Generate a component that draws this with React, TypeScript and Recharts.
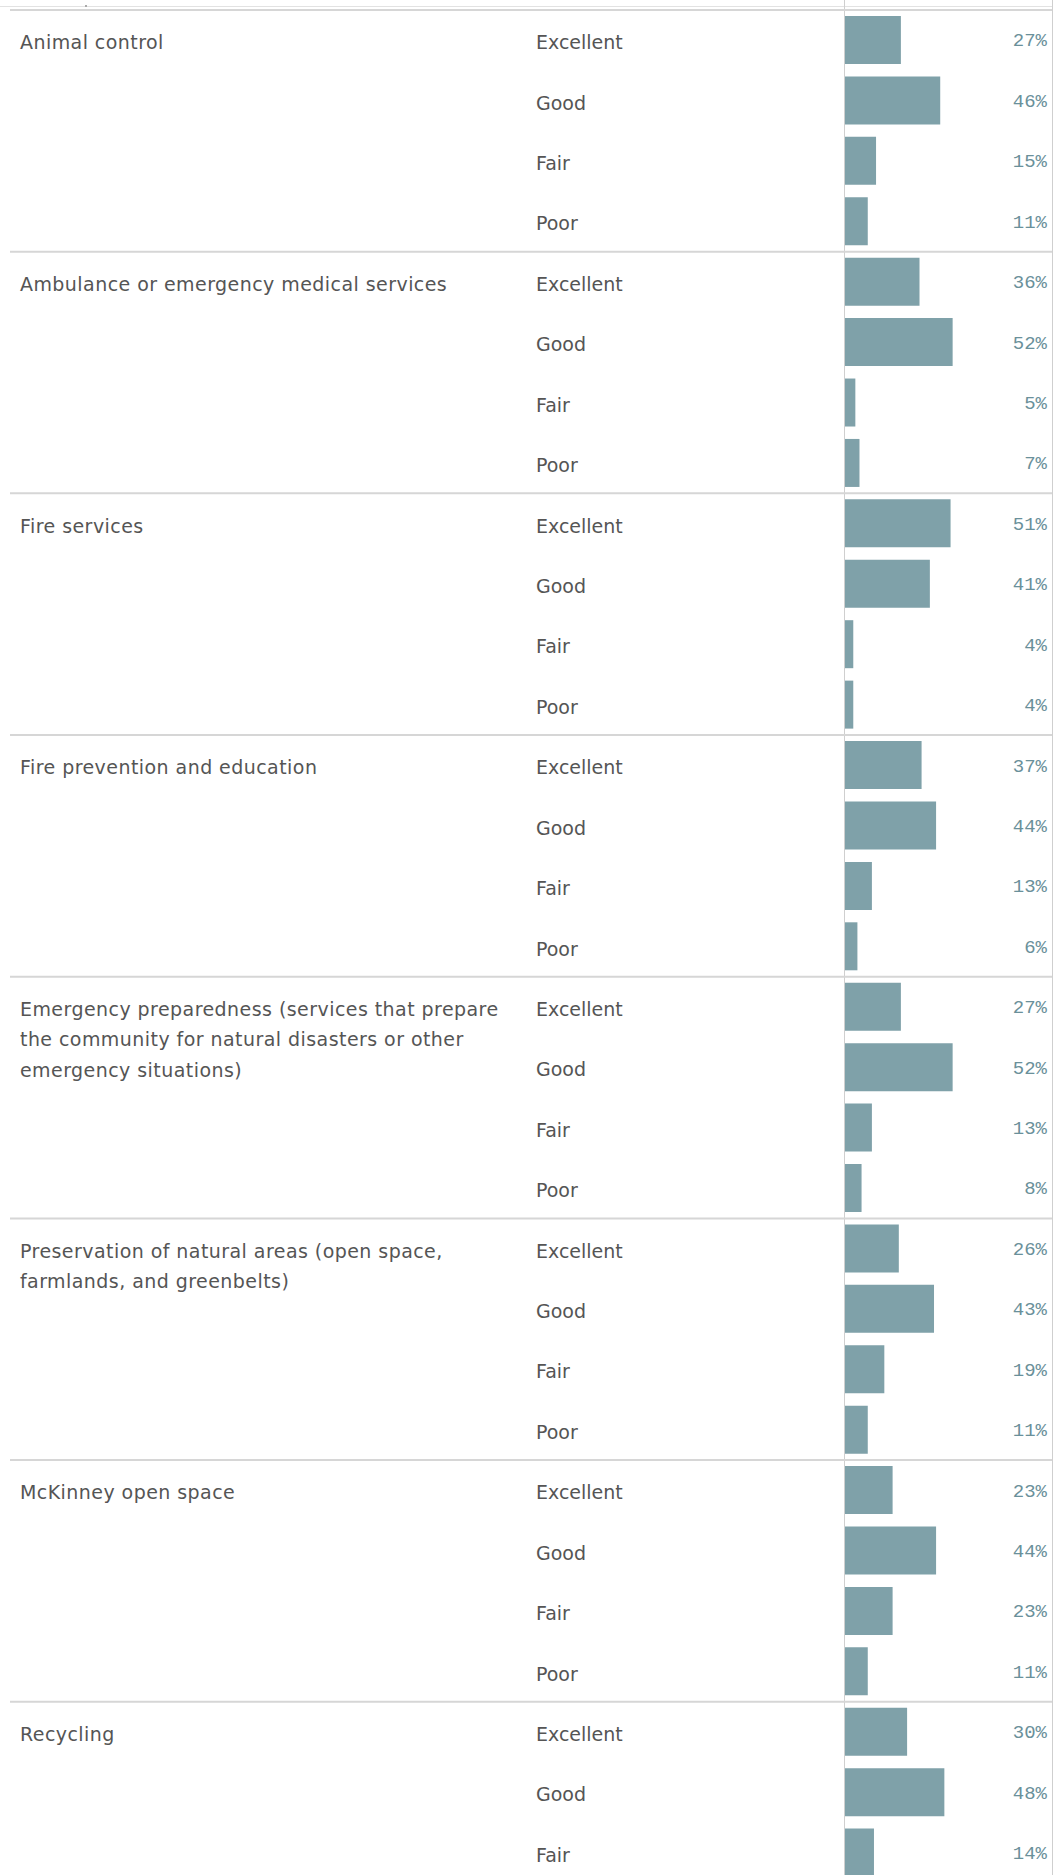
import React from "react";
import { BarChart, Bar, XAxis, YAxis, LabelList } from "recharts";

// Service groups and rating categories
const groups = [
  "Animal control",
  "Ambulance or emergency medical services",
  "Fire services",
  "Fire prevention and education",
  "Emergency preparedness (services that prepare the community for natural disasters or other emergency situations)",
  "Preservation of natural areas (open space, farmlands, and greenbelts)",
  "McKinney open space",
  "Recycling",
];
const ratings = ["Excellent", "Good", "Fair", "Poor"];

// Percent of respondents per rating (Excellent, Good, Fair, Poor)
const animalControl = [27, 46, 15, 11];
const ambulance = [36, 52, 5, 7];
const fireServices = [51, 41, 4, 4];
const firePrevention = [37, 44, 13, 6];
const emergencyPrep = [27, 52, 13, 8];
const naturalAreas = [26, 43, 19, 11];
const openSpace = [23, 44, 23, 11];
const recycling = [30, 48, 14]; // last row is cut off in the view

const seriesByGroup = [
  animalControl,
  ambulance,
  fireServices,
  firePrevention,
  emergencyPrep,
  naturalAreas,
  openSpace,
  recycling,
];

const chartData = groups.flatMap((group, gi) =>
  seriesByGroup[gi].map((value, ri) => ({
    id: `${gi}-${ri}`,
    group,
    rating: ratings[ri],
    value,
    first: ri === 0,
  }))
);

const CHART_W = 1063;
const ROW = 60.42;
const TOP = 10;
const LEFT_W = 845;
const RIGHT_M = 11;
const CHART_H = TOP + chartData.length * ROW;

const TEXT = "#555555";
const GRID = "#d6d6d6";
const FONT = "'DejaVu Sans', sans-serif";

// naive word wrap for long service names
const wrap = (s: string, max = 46) => {
  const lines: string[] = [];
  let cur = "";
  s.split(" ").forEach((w) => {
    const next = cur ? cur + " " + w : w;
    if (next.length > max && cur) {
      lines.push(cur);
      cur = w;
    } else cur = next;
  });
  if (cur) lines.push(cur);
  return lines;
};

const RowTick = ({ y, payload }: any) => {
  const row = chartData.find((d) => d.id === payload.value);
  if (!row) return null;
  return (
    <g>
      {row.first && (
        <line
          x1={10}
          x2={CHART_W - RIGHT_M}
          y1={y - ROW / 2}
          y2={y - ROW / 2}
          stroke={GRID}
          strokeWidth={2}
        />
      )}
      {row.first &&
        wrap(row.group).map((line, i) => (
          <text
            key={i}
            x={20}
            y={y + 9}
            dy={i * 30.5}
            fill={TEXT}
            fontSize={19}
            fontFamily={FONT}
            letterSpacing={0.45}
          >
            {line}
          </text>
        ))}
      <text x={536} y={y + 9} fill={TEXT} fontSize={19} fontFamily={FONT}>
        {row.rating}
      </text>
    </g>
  );
};

const ValueLabel = ({ y, height, value }: any) => (
  <text
    x={CHART_W - RIGHT_M - 5}
    y={y + height / 2 + 6.5}
    textAnchor="end"
    fill="#6a909a"
    fontSize={19}
    fontFamily="'Liberation Mono', monospace"
  >
    {value}%
  </text>
);

export default function App() {
  return (
    <div
      style={{
        position: "absolute",
        left: 0,
        top: 0,
        width: CHART_W,
        height: 1875,
        overflow: "hidden",
        background: "#fff",
      }}
    >
      {/* frame lines above the scrolled view */}
      <div style={{ position: "absolute", left: 0, top: 6, width: 1052, height: 1, background: "#e2e2e2" }} />
      <div style={{ position: "absolute", left: 85, top: 5, width: 2, height: 2, background: "#aaa" }} />
      <div style={{ position: "absolute", left: 844, top: 0, width: 1, height: 1875, background: "#cfcfcf" }} />
      <div style={{ position: "absolute", left: 1052, top: 0, width: 1, height: 1875, background: "#cfcfcf" }} />
      <div style={{ position: "absolute", left: 0, top: 0 }}>
        <BarChart
          width={CHART_W}
          height={CHART_H}
          data={chartData}
          layout="vertical"
          margin={{ top: TOP, right: RIGHT_M, left: 0, bottom: 0 }}
        >
          <XAxis type="number" domain={[0, 100]} hide />
          <YAxis
            type="category"
            dataKey="id"
            width={LEFT_W}
            interval={0}
            axisLine={false}
            tickLine={false}
            tick={<RowTick />}
          />
          <Bar dataKey="value" fill="#7fa1a9" barSize={48} isAnimationActive={false}>
            <LabelList dataKey="value" content={<ValueLabel />} />
          </Bar>
        </BarChart>
      </div>
    </div>
  );
}
